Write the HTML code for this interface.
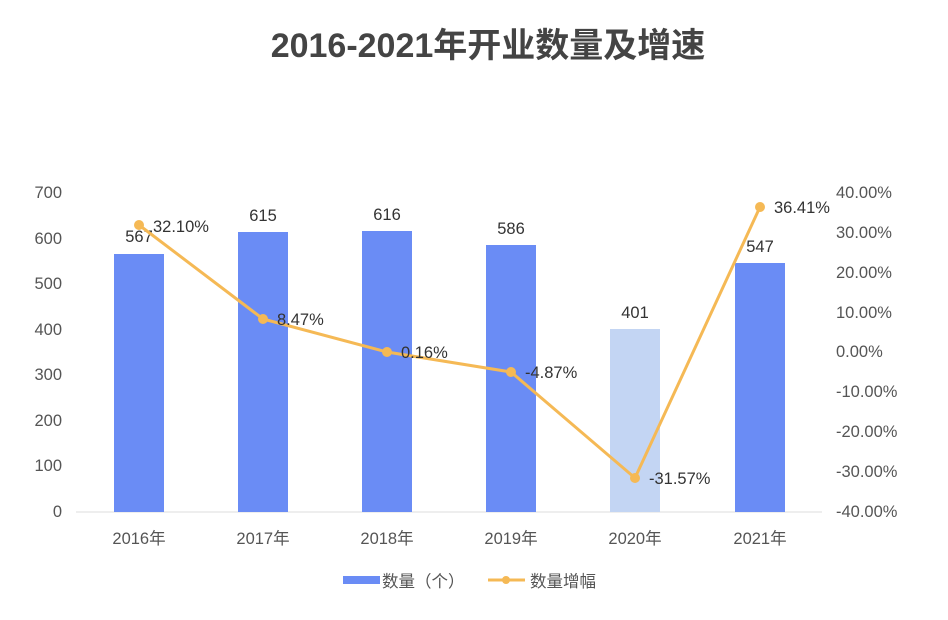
<!DOCTYPE html><html><head><meta charset="utf-8"><style>body{margin:0;background:#fff}svg{display:block}</style></head><body>
<svg width="948" height="620" xmlns="http://www.w3.org/2000/svg" font-family="Liberation Sans, Noto Sans CJK SC, sans-serif">
<rect width="948" height="620" fill="#fff"/>
<text x="488" y="57" text-anchor="middle" font-size="34" font-weight="bold" fill="#444">2016-2021年开业数量及增速</text>
<g font-size="16.5" fill="#555">
<text x="62" y="198" text-anchor="end">700</text>
<text x="62" y="244" text-anchor="end">600</text>
<text x="62" y="289" text-anchor="end">500</text>
<text x="62" y="335" text-anchor="end">400</text>
<text x="62" y="380" text-anchor="end">300</text>
<text x="62" y="426" text-anchor="end">200</text>
<text x="62" y="471" text-anchor="end">100</text>
<text x="62" y="517" text-anchor="end">0</text>
<text x="836" y="198">40.00%</text>
<text x="836" y="238">30.00%</text>
<text x="836" y="278">20.00%</text>
<text x="836" y="318">10.00%</text>
<text x="836" y="357">0.00%</text>
<text x="836" y="397">-10.00%</text>
<text x="836" y="437">-20.00%</text>
<text x="836" y="477">-30.00%</text>
<text x="836" y="517">-40.00%</text>
</g>
<line x1="76" y1="512" x2="822" y2="512" stroke="#ddd"/>
<g fill="#6a8cf5">
<rect x="114" y="254" width="50" height="258"/>
<rect x="238" y="232" width="50" height="280"/>
<rect x="362" y="231" width="50" height="281"/>
<rect x="486" y="245" width="50" height="267"/>
<rect x="610" y="329" width="50" height="183" fill="#c3d5f3"/>
<rect x="735" y="263" width="50" height="249"/>
</g>
<g font-size="16.5" fill="#333" text-anchor="middle">
<text x="139" y="242">567</text>
<text x="263" y="221">615</text>
<text x="387" y="220">616</text>
<text x="511" y="234">586</text>
<text x="635" y="318">401</text>
<text x="760" y="252">547</text>
</g>
<polyline points="139,225 263,319 387,352 511,372 635,478 760,207" fill="none" stroke="#f5b955" stroke-width="3"/>
<g fill="#f5b955">
<circle cx="139" cy="225" r="5"/><circle cx="263" cy="319" r="5"/><circle cx="387" cy="352" r="5"/><circle cx="511" cy="372" r="5"/><circle cx="635" cy="478" r="5"/><circle cx="760" cy="207" r="5"/>
</g>
<g font-size="16.5" fill="#333">
<text x="153" y="232">32.10%</text>
<text x="277" y="325">8.47%</text>
<text x="401" y="358">0.16%</text>
<text x="525" y="378">-4.87%</text>
<text x="649" y="484">-31.57%</text>
<text x="774" y="213">36.41%</text>
</g>
<g font-size="16.5" fill="#555" text-anchor="middle">
<text x="139" y="544">2016年</text><text x="263" y="544">2017年</text><text x="387" y="544">2018年</text><text x="511" y="544">2019年</text><text x="635" y="544">2020年</text><text x="760" y="544">2021年</text>
</g>
<rect x="343" y="576" width="37" height="8" fill="#6a8cf5"/>
<text x="382" y="587" font-size="16.5" fill="#555">数量（个）</text>
<line x1="488" y1="580" x2="525" y2="580" stroke="#f5b955" stroke-width="3"/>
<circle cx="506" cy="580" r="4" fill="#f5b955"/>
<text x="530" y="587" font-size="16.5" fill="#555">数量增幅</text>
</svg></body></html>
